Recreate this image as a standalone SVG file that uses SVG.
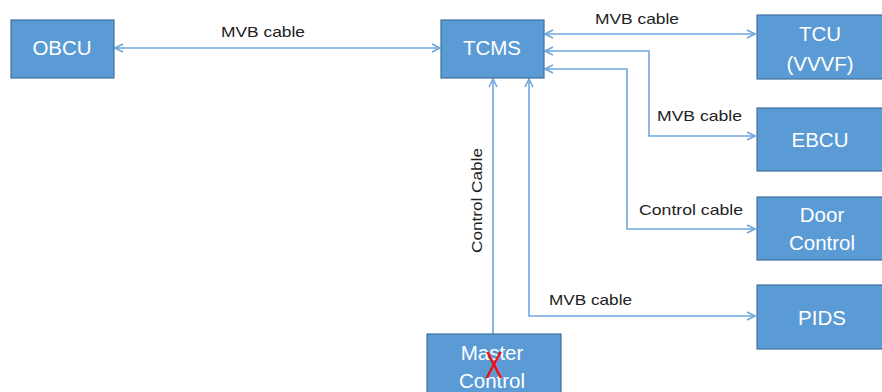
<svg xmlns="http://www.w3.org/2000/svg" width="882" height="392" viewBox="0 0 882 392">
  <style>
    .box { fill: #5b9bd5; stroke: #41719c; stroke-width: 1.2; }
    .name { fill: #ffffff; font-family: "Liberation Sans", Arial, sans-serif; font-size: 20.5px; text-anchor: middle; }
    .lbl { fill: #222222; font-family: "Liberation Sans", Arial, sans-serif; font-size: 14.5px; }
    .wire { fill: none; stroke: #6fa8dc; stroke-width: 1.6; }
    .x { fill: #ee1111; font-family: "Liberation Sans", Arial, sans-serif; font-size: 36px; }
  </style>
  <defs>
    <marker id="head" viewBox="0 0 10 10" refX="9" refY="5" markerWidth="10" markerHeight="10" markerUnits="userSpaceOnUse" orient="auto-start-reverse">
      <path d="M1,1 L9,5 L1,9" fill="none" stroke="#6fa8dc" stroke-width="1.6"/>
    </marker>
  </defs>

  <rect width="882" height="392" fill="#ffffff"/>

  <!-- connectors -->
  <g id="connectors">
    <path class="wire" d="M115,48 H440" marker-start="url(#head)" marker-end="url(#head)"/>
    <path class="wire" d="M545,34 H755" marker-start="url(#head)" marker-end="url(#head)"/>
    <path class="wire" d="M545,51 H649 V136 H755" marker-start="url(#head)" marker-end="url(#head)"/>
    <path class="wire" d="M545,69 H627 V229 H755" marker-start="url(#head)" marker-end="url(#head)"/>
    <path class="wire" d="M529,79 V316 H755" marker-start="url(#head)" marker-end="url(#head)"/>
    <path class="wire" d="M493,334 V79" marker-end="url(#head)"/>
    <text class="lbl" x="221" y="37" textLength="84" lengthAdjust="spacingAndGlyphs">MVB cable</text>
    <text class="lbl" x="595" y="24" textLength="84" lengthAdjust="spacingAndGlyphs">MVB cable</text>
    <text class="lbl" x="657" y="121" textLength="85" lengthAdjust="spacingAndGlyphs">MVB cable</text>
    <text class="lbl" x="639" y="215" textLength="104" lengthAdjust="spacingAndGlyphs">Control cable</text>
    <text class="lbl" x="549" y="305" textLength="83" lengthAdjust="spacingAndGlyphs">MVB cable</text>
    <text class="lbl" transform="translate(482,253) rotate(-90)" textLength="105" lengthAdjust="spacingAndGlyphs">Control Cable</text>
  </g>

  <g id="obcu">
    <rect class="box" x="11" y="20" width="103" height="58"/>
    <text class="name" x="62" y="55">OBCU</text>
  </g>

  <g id="tcms">
    <rect class="box" x="441" y="20" width="103" height="58"/>
    <text class="name" x="492" y="55">TCMS</text>
  </g>

  <g id="tcu">
    <rect class="box" x="757" y="15" width="140" height="64"/>
    <text class="name" x="820" y="41">TCU</text>
    <text class="name" x="820" y="71">(VVVF)</text>
  </g>

  <g id="ebcu">
    <rect class="box" x="757" y="108" width="140" height="63"/>
    <text class="name" x="820" y="147">EBCU</text>
  </g>

  <g id="door-control">
    <rect class="box" x="757" y="197" width="140" height="63"/>
    <text class="name" x="822" y="222">Door</text>
    <text class="name" x="822" y="250">Control</text>
  </g>

  <g id="pids">
    <rect class="box" x="757" y="285" width="140" height="64"/>
    <text class="name" x="822" y="325">PIDS</text>
  </g>

  <g id="master-control">
    <rect class="box" x="427" y="334" width="134" height="70"/>
    <text class="name" x="492" y="360">Master</text>
    <text class="name" x="492" y="388">Control</text>
    <!-- red cross drawn over the box label -->
    <text class="x" x="485" y="378" textLength="18" lengthAdjust="spacingAndGlyphs">X</text>
  </g>
</svg>
